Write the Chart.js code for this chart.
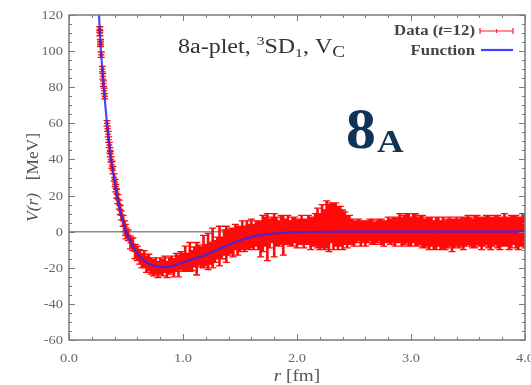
<!DOCTYPE html>
<html><head><meta charset="utf-8">
<script src="https://cdn.jsdelivr.net/npm/chart.js@4/dist/chart.umd.min.js"></script>
<style>html,body{margin:0;padding:0;background:#fff;overflow:hidden}</style>
</head><body>
<canvas id="c" width="531" height="385"></canvas>
<script>
// ---- tick labels ----
const yTickValues = [-60, -40, -20, 0, 20, 40, 60, 80, 100, 120];
const xTickValues = [0, 1, 2, 3, 4];
const xTickLabels = ['0.0', '1.0', '2.0', '3.0', '4.0'];

// ---- fitted function V(r) ----
const funcR = [0.263,0.28,0.29,0.305,0.32,0.333,0.35,0.368,0.39,0.42,0.46,0.50,0.55,0.60,0.65,0.70,0.75,0.80,0.85,0.90,0.95,1.00,1.10,1.20,1.30,1.40,1.50,1.60,1.70,1.80,1.90,2.00,2.20,2.40,3.00,4.00];
const funcV = [120,100,92,80,69,60,50,40,32,20,9,0,-7,-12,-15.5,-17.8,-19,-19.6,-19.6,-19,-18.1,-17,-15,-12.8,-10,-7.3,-4.8,-3,-1.8,-1,-0.5,-0.25,-0.05,0,0,0];

// ---- lattice data (t=12) ----
const dataR = [
 0.270,0.271,0.276,0.277,0.283,0.293,0.297,0.302,0.309,0.313,0.333,0.338,0.343,0.348,0.354,0.359,0.363,0.368,0.376,0.384,0.396,0.405,0.410,0.418,0.428,0.440,0.450,0.460,0.475,0.488,0.496,
 0.50,0.52,0.54,0.56,0.58,0.60,0.62,0.64,0.66,0.68,0.70,0.72,0.74,0.76,0.78,0.80,0.82,0.84,0.86,0.88,
 0.90,0.92,0.94,0.96,0.98,1.00,1.02,1.04,1.06,1.08,1.10,1.12,1.14,1.16,1.18,1.20,1.22,1.24,1.26,1.28,
 1.30,1.32,1.34,1.36,1.38,1.40,1.42,1.44,1.46,1.48,1.50,1.52,1.54,1.56,1.58,1.60,1.62,1.64,1.66,1.68,
 1.70,1.72,1.74,1.76,1.78,1.80,1.82,1.84,1.86,1.88,1.90,1.92,1.94,1.96,1.98,2.00,2.02,2.04,2.06,2.08,
 2.10,2.12,2.14,2.16,2.18,2.20,2.22,2.24,2.26,2.28,2.30,2.32,2.34,2.36,2.38,2.40,2.42,2.44,2.46,2.48,
 2.50,2.52,2.54,2.56,2.58,2.60,2.62,2.64,2.66,2.68,2.70,2.72,2.74,2.76,2.78,2.80,2.82,2.84,2.86,2.88,
 2.90,2.92,2.94,2.96,2.98,3.00,3.02,3.04,3.06,3.08,3.10,3.12,3.14,3.16,3.18,3.20,3.22,3.24,3.26,3.28,
 3.30,3.32,3.34,3.36,3.38,3.40,3.42,3.44,3.46,3.48,3.50,3.52,3.54,3.56,3.58,3.60,3.62,3.64,3.66,3.68,
 3.70,3.72,3.74,3.76,3.78,3.80,3.82,3.84,3.86,3.88,3.90,3.92,3.94,3.96,3.98,4.00];
const dataV = [
 112,110,105,104,98,90,86,82,78,75,60,57,54,51,48,45,43,40,37,34,30,27,24,21,18,15,12,9,6,3,1,
 -1,-2,-6,-7,-11,-12,-14,-16,-15,-18,-17,-19,-20,-19,-21,-19,-20,-18,-21,-19,
 -18,-20,-17,-19,-16,-17,-15,-17,-14,-16,-14,-15,-13,-14,-11,-13,-11,-12,-9,-11,
 -9,-8,-9,-6,-7,-6,-5,-6,-3,-5,-4,-2,-4,-2,-3,-1,-3,-1,-2,-4,
 -1,0,-3,-1,1,-2,0,-1,1,-2,0,1,-1,0,1,-1,0,1,-1,0,
 1,-1,0,1,2,0,3,1,4,2,5,3,4,2,3,1,2,0,1,0,
 -1,0,1,-1,0,-1,0,1,0,-1,0,1,0,-1,0,1,0,1,0,1,
 2,0,1,2,1,0,2,1,0,1,0,-1,0,-1,0,-2,-1,0,-2,-1,
 -2,-1,0,-2,-1,0,-1,0,-1,0,1,0,-1,0,1,0,-1,0,1,0,
 -1,0,1,0,-1,0,1,0,-1,0,1,0,-1,0,1,0];
const dataErr = [
 1.5,1.5,1.5,1.5,1.5,1.5,1.5,1.5,1.5,1.5,1.5,1.5,1.5,1.5,1.5,1.5,1.5,1.5,2,2,2,2,2,2.5,2.5,2.5,2.5,2.5,3,3,3,
 3,3,3.5,3.5,4,4,4,4,4.5,4.5,4.5,4.5,4.5,4.5,4.5,4.5,4.5,4.5,4.5,4.5,
 4.5,5,5,6,5,5,7,5,8,5.5,5.5,9,5.5,5.5,9,6,10,6,11,6,
 6,11,6,7,10,7,7,8,7,8,7,8,7,8,7,8,7,7,8,10,
 10,8,13,8,7,12,8,7,8,11,7,8,7,8,7,8,7,8,8,7,
 8,9,8,9,11,10,12,11,13,13,11,13,12,12,11,11,9,9,8,7,
 7,6,6,7,6,7,6,6,7,6,6,6,7,7,6,7,7,7,8,7,
 8,8,8,8,9,8,8,9,8,8,9,8,8,9,8,8,9,8,8,9,
 8,8,8,9,8,8,8,8,9,8,8,8,8,9,8,8,9,8,8,9,
 9,8,8,9,9,8,9,8,9,9,8,9,9,8,9,9];

const SERIF = '"Liberation Serif","Times New Roman","DejaVu Serif",serif';
const SX = 1.2; // horizontal stretch of the original picture's text

function runs(ctx, parts, x, y, align, sx, color) {
  ctx.save();
  let total = 0;
  for (const p of parts) { ctx.font = p.f; total += ctx.measureText(p.t).width; }
  total *= sx;
  let x0 = align === 'center' ? x - total / 2 : align === 'right' ? x - total : x;
  ctx.translate(x0, y);
  ctx.scale(sx, 1);
  ctx.fillStyle = color;
  ctx.textAlign = 'left';
  ctx.textBaseline = 'alphabetic';
  let cx = 0;
  for (const p of parts) {
    ctx.font = p.f;
    ctx.fillText(p.t, cx, p.dy || 0);
    cx += ctx.measureText(p.t).width;
  }
  ctx.restore();
  return total;
}

const deco = {
  id: 'deco',
  beforeDatasetsDraw(chart) {
    const { ctx, chartArea: a, scales: { x, y } } = chart;
    ctx.save();
    ctx.beginPath(); ctx.rect(a.left, a.top, a.right - a.left, a.bottom - a.top); ctx.clip();
    const y0 = y.getPixelForValue(0);
    ctx.strokeStyle = '#8c8c8c'; ctx.lineWidth = 1.5;
    ctx.beginPath(); ctx.moveTo(a.left, y0); ctx.lineTo(a.right, y0); ctx.stroke();
    ctx.strokeStyle = '#ff0a0a'; ctx.lineWidth = 2.6;
    ctx.beginPath();
    for (let i = 0; i < dataR.length; i++) {
      const px = x.getPixelForValue(dataR[i]);
      const pt = y.getPixelForValue(dataV[i] + dataErr[i]);
      const pb = y.getPixelForValue(dataV[i] - dataErr[i]);
      ctx.moveTo(px, pt); ctx.lineTo(px, pb);
    }
    ctx.stroke();
    ctx.lineWidth = 1.3;
    ctx.beginPath();
    for (let i = 0; i < dataR.length; i++) {
      const px = x.getPixelForValue(dataR[i]);
      const pt = y.getPixelForValue(dataV[i] + dataErr[i]);
      const pb = y.getPixelForValue(dataV[i] - dataErr[i]);
      ctx.moveTo(px - 3.5, pt); ctx.lineTo(px + 3.5, pt);
      ctx.moveTo(px - 3.5, pb); ctx.lineTo(px + 3.5, pb);
    }
    ctx.stroke();
    ctx.restore();
  },
  afterDraw(chart) {
    const { ctx, chartArea: a, scales: { x, y } } = chart;
    ctx.save();
    // frame
    ctx.strokeStyle = '#7a7a7a'; ctx.lineWidth = 1.5;
    ctx.strokeRect(a.left, a.top, a.right - a.left, a.bottom - a.top);
    ctx.lineWidth = 1;
    ctx.beginPath();
    for (let v = -60; v <= 120; v += 5) {
      const py = Math.round(y.getPixelForValue(v)) + 0.5;
      const L = (v % 20 === 0) ? 6 : 3;
      ctx.moveTo(a.left, py); ctx.lineTo(a.left + L, py);
      ctx.moveTo(a.right, py); ctx.lineTo(a.right - L, py);
    }
    for (let k = 0; k <= 20; k++) {
      const v = k * 0.2;
      const px = Math.round(x.getPixelForValue(v)) + 0.5;
      const L = (k % 5 === 0) ? 6 : 3;
      ctx.moveTo(px, a.bottom); ctx.lineTo(px, a.bottom - L);
      ctx.moveTo(px, a.top); ctx.lineTo(px, a.top + L);
    }
    ctx.stroke();
    // tick labels
    const tf = '12px ' + SERIF;
    yTickValues.forEach(v => {
      runs(ctx, [{ t: String(v), f: tf }], a.left - 6, y.getPixelForValue(v) + 4, 'right', SX, '#666');
    });
    xTickValues.forEach((v, i) => {
      runs(ctx, [{ t: xTickLabels[i], f: tf }], x.getPixelForValue(v), 362, 'center', SX, '#666');
    });
    // axis titles
    runs(ctx, [{ t: 'r', f: 'italic 16px ' + SERIF }, { t: ' [fm]', f: '16px ' + SERIF }], (a.left + a.right) / 2, 381, 'center', SX, '#555');
    ctx.save();
    ctx.translate(38, (a.top + a.bottom) / 2);
    ctx.rotate(-Math.PI / 2);
    runs(ctx, [{ t: 'V(', f: 'italic 16px ' + SERIF }, { t: 'r', f: 'italic 16px ' + SERIF }, { t: ')', f: 'italic 16px ' + SERIF }, { t: '   [MeV]', f: '16px ' + SERIF }], 0, 0, 'center', 1.08, '#555');
    ctx.restore();
    // title inside plot
    const F = '20px ' + SERIF, Fs = '13px ' + SERIF, Fc = '16px ' + SERIF;
    runs(ctx, [
      { t: '8a-plet, ', f: F }, { t: '3', f: Fs, dy: -8 }, { t: 'SD', f: F }, { t: '1', f: Fs, dy: 4 },
      { t: ', V', f: F }, { t: 'C', f: Fc, dy: 4 }
    ], 178, 53, 'left', SX, '#333');
    // legend
    const LF = 'bold 14px ' + SERIF;
    runs(ctx, [{ t: 'Data (', f: LF }, { t: 't', f: 'bold italic 14px ' + SERIF }, { t: '=12)', f: LF }], 475, 35, 'right', SX, '#444');
    runs(ctx, [{ t: 'Function', f: LF }], 475, 55, 'right', SX, '#444');
    ctx.strokeStyle = '#ff2020'; ctx.lineWidth = 1.2;
    ctx.beginPath();
    ctx.moveTo(480, 31); ctx.lineTo(513, 31);
    ctx.moveTo(480, 28); ctx.lineTo(480, 34);
    ctx.moveTo(513, 28); ctx.lineTo(513, 34);
    ctx.moveTo(496.5, 29); ctx.lineTo(496.5, 33);
    ctx.stroke();
    ctx.strokeStyle = 'rgba(45,45,255,0.9)'; ctx.lineWidth = 2.2;
    ctx.beginPath(); ctx.moveTo(481, 50); ctx.lineTo(513, 50); ctx.stroke();
    // big label 8_A
    runs(ctx, [{ t: '8', f: 'bold 58px ' + SERIF }], 346, 148, 'left', 1.03, '#0f3358');
    runs(ctx, [{ t: 'A', f: 'bold 32px ' + SERIF }], 377, 152, 'left', 1.15, '#0f3358');
    ctx.restore();
  }
};

new Chart(document.getElementById('c'), {
  type: 'scatter',
  data: {
    datasets: [
      {
        label: 'Function', type: 'line',
        data: funcR.map((r, i) => ({ x: r, y: funcV[i] })),
        borderColor: 'rgba(50,40,240,0.85)', borderWidth: 2.2, pointRadius: 0,
        cubicInterpolationMode: 'monotone', fill: false, order: 0
      },
      {
        label: 'Data (t=12)',
        data: dataR.map((r, i) => ({ x: r, y: dataV[i] })),
        pointStyle: 'cross', pointRadius: 3, borderColor: '#ff0a0a', backgroundColor: '#ff0a0a',
        borderWidth: 1.4, order: 1
      }
    ]
  },
  options: {
    responsive: false, animation: false, devicePixelRatio: 1,
    layout: { padding: { top: 15, right: 6, left: 0, bottom: 0 } },
    plugins: { legend: { display: false }, tooltip: { enabled: false }, title: { display: false } },
    scales: {
      x: {
        type: 'linear', min: 0, max: 4,
        grid: { display: false }, border: { display: false }, ticks: { display: false },
        afterFit(s) { s.height = 45; s.paddingLeft = 0; s.paddingRight = 0; }
      },
      y: {
        type: 'linear', min: -60, max: 120,
        grid: { display: false }, border: { display: false }, ticks: { display: false },
        afterFit(s) { s.width = 69; s.paddingTop = 0; s.paddingBottom = 0; }
      }
    }
  },
  plugins: [deco]
});
</script>
</body></html>
